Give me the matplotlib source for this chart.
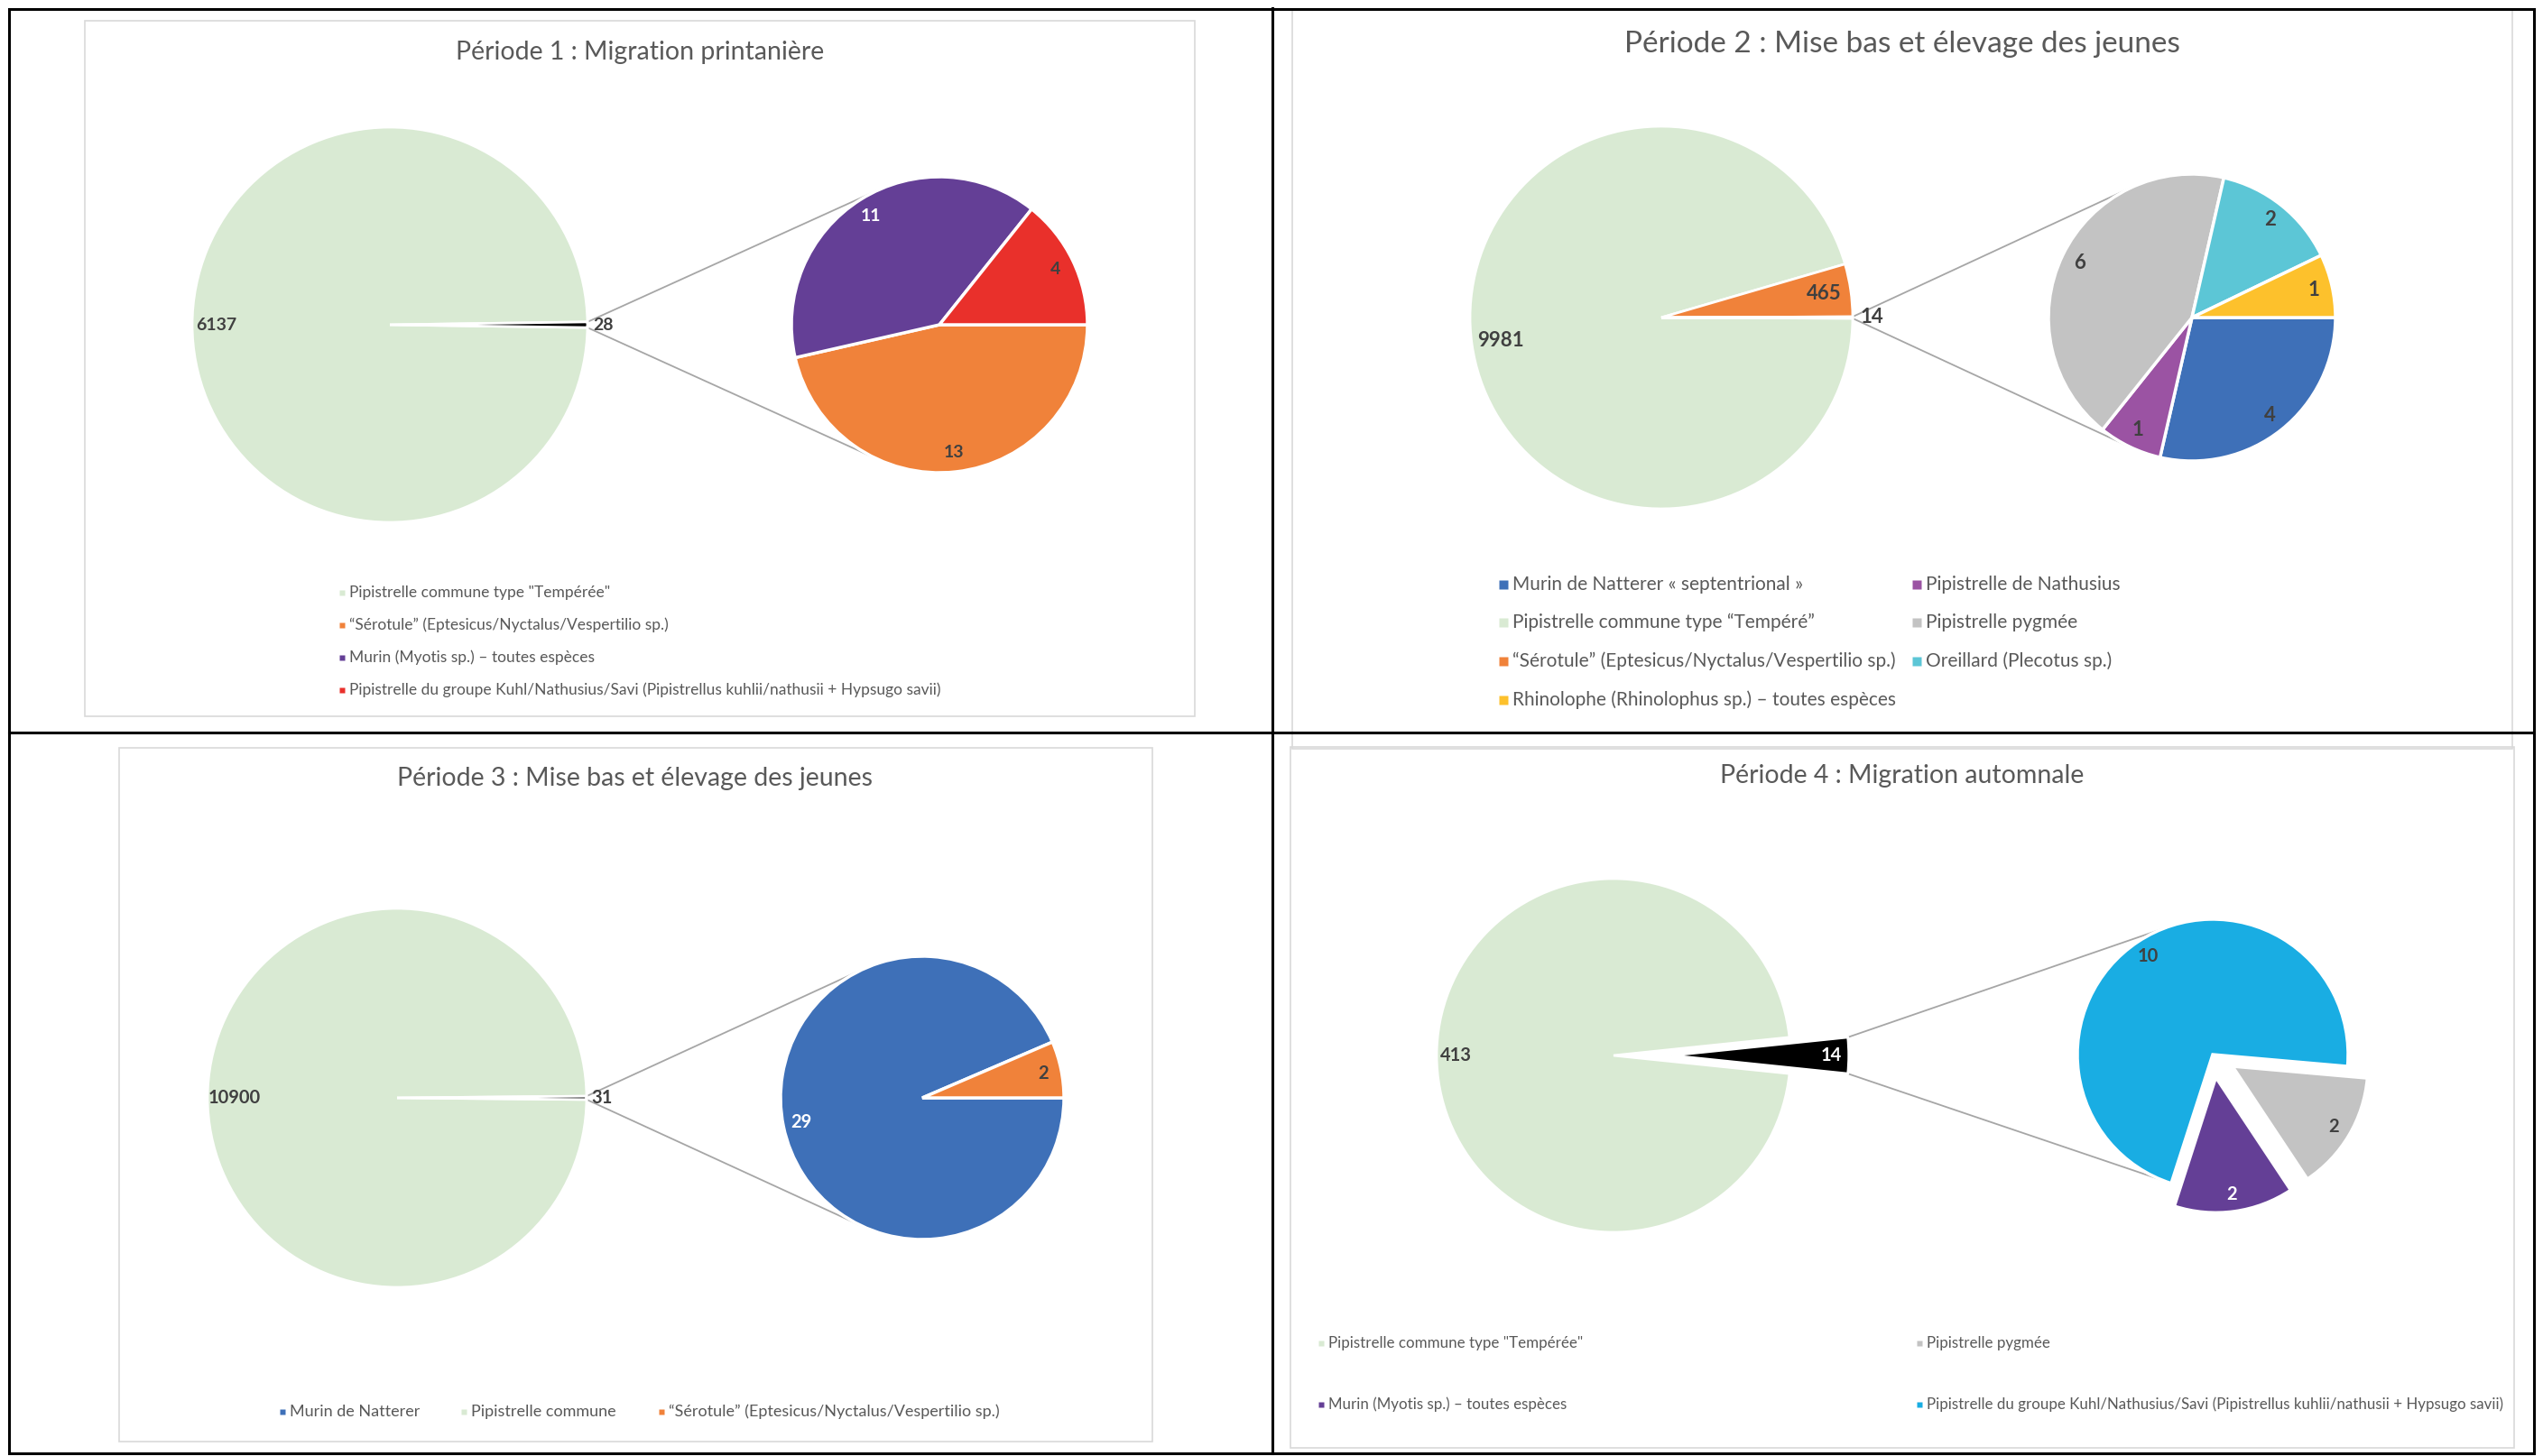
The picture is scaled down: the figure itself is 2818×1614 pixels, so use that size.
import numpy as np
import matplotlib
matplotlib.use('Agg')
import matplotlib.pyplot as plt
from matplotlib.patches import Rectangle

plt.rcParams['font.family'] = ['Lato', 'DejaVu Sans']

W, H = 2818, 1614
TXT = '#595959'
LAB = '#404040'

# ---------------- data ----------------
# Période 1 : Migration printanière
p1_main_names = ['Pipistrelle commune type "Tempérée"']
p1_main_values = [6137]
p1_sub_names = ['“Sérotule” (Eptesicus/Nyctalus/Vespertilio sp.)',
                'Murin (Myotis sp.) – toutes espèces',
                'Pipistrelle du groupe Kuhl/Nathusius/Savi (Pipistrellus kuhlii/nathusii + Hypsugo savii)']
p1_sub_values = [13, 11, 4]

# Période 2 : Mise bas et élevage des jeunes
p2_main_names = ['Pipistrelle commune type “Tempéré”',
                 '“Sérotule” (Eptesicus/Nyctalus/Vespertilio sp.)']
p2_main_values = [9981, 465]
p2_sub_names = ['Murin de Natterer « septentrional »', 'Pipistrelle de Nathusius',
                'Pipistrelle pygmée', 'Oreillard (Plecotus sp.)',
                'Rhinolophe (Rhinolophus sp.) – toutes espèces']
p2_sub_values = [4, 1, 6, 2, 1]
p2_legend = ['Murin de Natterer « septentrional »', 'Pipistrelle de Nathusius',
             'Pipistrelle commune type “Tempéré”', 'Pipistrelle pygmée',
             '“Sérotule” (Eptesicus/Nyctalus/Vespertilio sp.)', 'Oreillard (Plecotus sp.)',
             'Rhinolophe (Rhinolophus sp.) – toutes espèces']

# Période 3 : Mise bas et élevage des jeunes
p3_main_names = ['Pipistrelle commune']
p3_main_values = [10900]
p3_sub_names = ['Murin de Natterer', '“Sérotule” (Eptesicus/Nyctalus/Vespertilio sp.)']
p3_sub_values = [29, 2]
p3_legend = ['Murin de Natterer', 'Pipistrelle commune',
             '“Sérotule” (Eptesicus/Nyctalus/Vespertilio sp.)']

# Période 4 : Migration automnale
p4_main_names = ['Pipistrelle commune type "Tempérée"']
p4_main_values = [413]
p4_sub_names = ['Pipistrelle pygmée', 'Murin (Myotis sp.) – toutes espèces',
                'Pipistrelle du groupe Kuhl/Nathusius/Savi (Pipistrellus kuhlii/nathusii + Hypsugo savii)']
p4_sub_values = [2, 2, 10]
p4_legend = ['Pipistrelle commune type "Tempérée"', 'Pipistrelle pygmée',
             'Murin (Myotis sp.) – toutes espèces',
             'Pipistrelle du groupe Kuhl/Nathusius/Savi (Pipistrellus kuhlii/nathusii + Hypsugo savii)']

colors = {
    'Pipistrelle commune type "Tempérée"': '#d9ead3',
    'Pipistrelle commune type “Tempéré”': '#d9ead3',
    'Pipistrelle commune': '#d9ead3',
    '“Sérotule” (Eptesicus/Nyctalus/Vespertilio sp.)': '#f0823a',
    'Murin (Myotis sp.) – toutes espèces': '#643f96',
    'Pipistrelle du groupe Kuhl/Nathusius/Savi (Pipistrellus kuhlii/nathusii + Hypsugo savii)': '#e9302b',
    'Murin de Natterer « septentrional »': '#3e70b8',
    'Murin de Natterer': '#3e70b8',
    'Pipistrelle de Nathusius': '#9b53a3',
    'Pipistrelle pygmée': '#c3c3c3',
    'Oreillard (Plecotus sp.)': '#5cc6d6',
    'Rhinolophe (Rhinolophus sp.) – toutes espèces': '#fdc12c',
}
kuhl_p4 = '#19ade3'


def Y(y):
    return H - y


def pie_labels(ax, wedges, texts, dists, cols, size):
    for w, t, d, c in zip(wedges, texts, dists, cols):
        a = np.deg2rad((w.theta1 + w.theta2) / 2)
        x = w.center[0] + d * w.r * np.cos(a)
        y = w.center[1] + d * w.r * np.sin(a)
        ax.text(x, y, str(t), ha='center', va='center', color=c,
                fontsize=size, fontweight='bold')


def panel(ax, title, main_names, main_values, sub_names, sub_values, cmap, lay):
    x0, y0, x1, y1 = lay['box']
    ax.add_patch(Rectangle((x0, Y(y1)), x1 - x0, y1 - y0, fill=False,
                           edgecolor='#d9d9d9', lw=1.2))
    ax.text(lay['title'][0], Y(lay['title'][1]), title, ha='center', va='center',
            fontsize=lay['title'][2], color=TXT)

    # main pie: the last slice groups the secondary pie
    other = sum(sub_values)
    vals = list(main_values) + [other]
    cols = [cmap[n] for n in main_names] + ['black']
    cx, cy, r = lay['main']
    t = other / sum(vals) * 360
    expl = [0] * len(main_values) + [lay.get('main_explode', 0) * r]
    mw, _ = ax.pie(vals, colors=cols, startangle=-t / 2, counterclock=False,
                   center=(cx, Y(cy)), radius=r, explode=expl, frame=True,
                   wedgeprops=dict(edgecolor='white', linewidth=2.0))
    pie_labels(ax, mw, vals, lay['main_dist'], lay['main_col'], lay['lab'])

    # secondary pie
    sx, sy, sr = lay['sub']
    scols = [cmap[n] for n in sub_names]
    sexpl = [e * sr for e in lay.get('sub_explode', [0] * len(sub_values))]
    sw, _ = ax.pie(sub_values, colors=scols, startangle=lay.get('sub_start', 0),
                   counterclock=False, center=(sx, Y(sy)), radius=sr,
                   explode=sexpl, frame=True,
                   wedgeprops=dict(edgecolor='white', linewidth=2.5))
    pie_labels(ax, sw, sub_values, [0.87] * len(sub_values), lay['sub_col'], lay['lab'])

    # connector lines: from the grouped slice to tangents of the secondary pie
    w = mw[-1]
    pts = []
    for ang in (w.theta2, w.theta1):
        a = np.deg2rad(ang)
        pts.append((w.center[0] + w.r * np.cos(a), w.center[1] + w.r * np.sin(a)))
    px = (pts[0][0] + pts[1][0]) / 2
    py = (pts[0][1] + pts[1][1]) / 2
    d = np.hypot(px - sx, py - Y(sy))
    phi = np.arctan2(py - Y(sy), px - sx)
    beta = np.arccos(sr / d)
    for p, ang in zip(pts, (phi - beta, phi + beta)):
        ax.plot([p[0], sx + sr * np.cos(ang)], [p[1], Y(sy) + sr * np.sin(ang)],
                color='#a6a6a6', lw=1.3, zorder=0.5)

    # legend
    xs, ys, ncol = lay['leg_x'], lay['leg_y'], lay['ncol']
    for i, name in enumerate(lay['legend']):
        lx = xs[i % ncol]
        ly = ys[i // ncol]
        c = cmap[name]
        ax.plot(lx, Y(ly), marker='s', ms=lay['ms'], color=c, mec='none')
        ax.text(lx + lay['ms'] * 1.6, Y(ly), name, ha='left', va='center',
                fontsize=lay['leg'], color=TXT)


fig = plt.figure(figsize=(W / 100, H / 100), dpi=100)
ax = fig.add_axes([0, 0, 1, 1])
ax.axis('off')

panel(ax, 'Période 1 : Migration printanière', p1_main_names, p1_main_values,
      p1_sub_names, p1_sub_values, colors,
      dict(box=(94, 23, 1324, 794), title=(709, 58, 20.5),
           main=(432, 360, 219), sub=(1041, 360, 164), lab=14,
           main_dist=[0.88, 1.08], main_col=[LAB, LAB],
           sub_col=[LAB, 'white', LAB],
           legend=p1_main_names + p1_sub_names, ncol=1,
           leg_x=[379], leg_y=[657, 693, 729, 765], leg=12.5, ms=5))

panel(ax, 'Période 2 : Mise bas et élevage des jeunes', p2_main_names, p2_main_values,
      p2_sub_names, p2_sub_values, colors,
      dict(box=(1432, 10, 2784, 830), title=(2108, 49, 24),
           main=(1841, 352, 212), sub=(2429, 352, 159), lab=16,
           main_dist=[0.85, 0.86, 1.1], main_col=[LAB, LAB, LAB],
           sub_col=[LAB] * 5,
           legend=p2_legend, ncol=2,
           leg_x=[1666, 2124], leg_y=[648, 690, 733, 776], leg=15, ms=6.5))

panel(ax, 'Période 3 : Mise bas et élevage des jeunes', p3_main_names, p3_main_values,
      p3_sub_names, p3_sub_values, colors,
      dict(box=(132, 829, 1277, 1598), title=(704, 863, 20.5),
           main=(440, 1217, 210), sub=(1022, 1217, 157), lab=14.5,
           main_dist=[0.86, 1.08], main_col=[LAB, LAB],
           sub_col=['white', LAB],
           legend=p3_legend, ncol=3,
           leg_x=[313, 514, 733], leg_y=[1565], leg=13, ms=5))

p4_colors = dict(colors)
p4_colors[p4_sub_names[2]] = kuhl_p4
panel(ax, 'Période 4 : Migration automnale', p4_main_names, p4_main_values,
      p4_sub_names, p4_sub_values, p4_colors,
      dict(box=(1430, 828, 2786, 1605), title=(2108, 860, 20.5),
           main=(1788, 1170, 196), main_explode=0.33,
           sub=(2452, 1169, 150), sub_start=-5, sub_explode=[0.17, 0.17, 0],
           lab=14.5,
           main_dist=[0.89, 0.9], main_col=[LAB, 'white'],
           sub_col=[LAB, 'white', LAB],
           legend=p4_legend, ncol=2,
           leg_x=[1464, 2127], leg_y=[1489, 1557], leg=12.2, ms=5))

# panel frame lines
ax.add_patch(Rectangle((10, Y(1611)), 2798, 1601, fill=False, edgecolor='black', lw=2.2))
ax.plot([1410, 1410], [Y(9), Y(1611)], color='black', lw=2.2)
ax.plot([10, 2808], [Y(812), Y(812)], color='black', lw=2.2)

ax.set_xlim(0, W)
ax.set_ylim(0, H)
ax.set_aspect('auto')

fig.savefig('out.png', dpi=100, facecolor='white')
